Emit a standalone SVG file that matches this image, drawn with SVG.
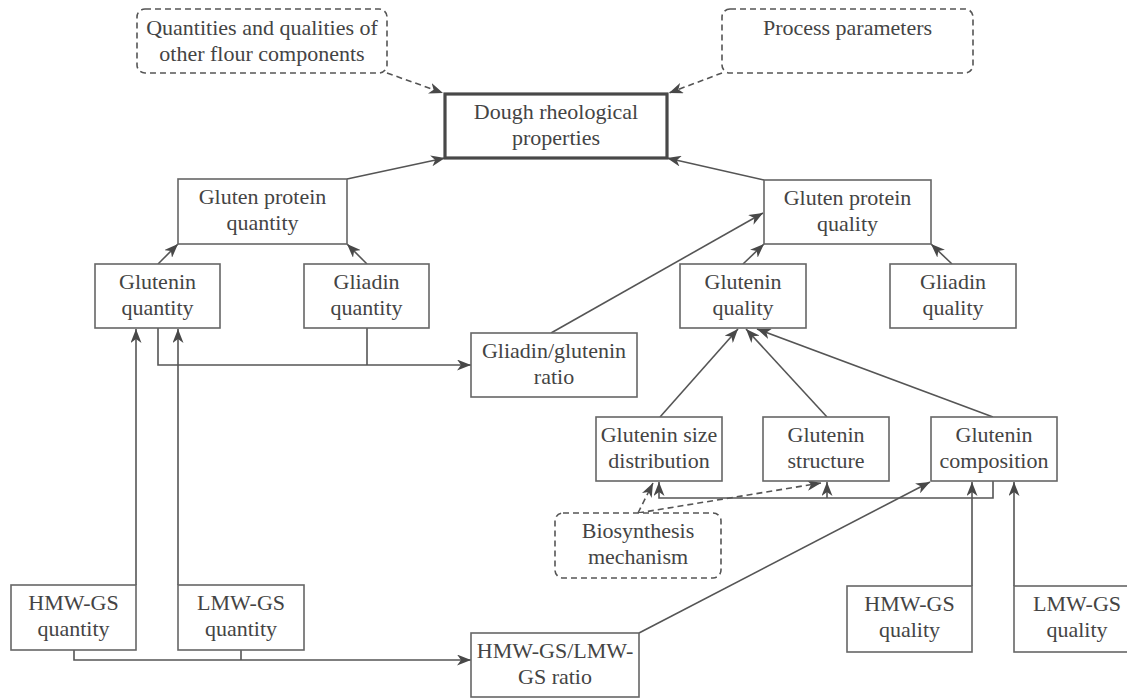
<svg xmlns="http://www.w3.org/2000/svg" width="1127" height="699" viewBox="0 0 1127 699" font-family="'Liberation Serif', 'DejaVu Serif', serif">
<defs>
<style>
.box{fill:#fff;stroke:#666;stroke-width:1.6}
.dbox{fill:#fff;stroke:#555;stroke-width:1.6;stroke-dasharray:6 4}
.main{fill:#fff;stroke:#484848;stroke-width:3.2}
text{font-family:'Liberation Serif', 'DejaVu Serif', serif;font-size:22px;fill:#444;text-anchor:middle}
.ln{fill:none;stroke:#555;stroke-width:1.6}
.dl{fill:none;stroke:#555;stroke-width:1.6;stroke-dasharray:6 4}
.arr{marker-end:url(#ah)}
</style>
<marker id="ah" viewBox="0 0 14 11" refX="14" refY="5.5" markerWidth="14" markerHeight="11" orient="auto" markerUnits="userSpaceOnUse">
<path d="M0,0 L14,5.5 L0,11 L4,5.5 Z" fill="#484848"/>
</marker>
</defs>
<rect width="1127" height="699" fill="#fff"/>

<g id="connectors">
<path class="dl arr" d="M387,73 L443,93"/>
<path class="dl arr" d="M722,73 L669,93"/>
<path class="ln arr" d="M347,179 L445,158"/>
<path class="ln arr" d="M764,180 L667,158"/>
<path class="ln arr" d="M158,264 L178,244"/>
<path class="ln arr" d="M367,264 L347,244"/>
<path class="ln arr" d="M743,264 L764,244"/>
<path class="ln arr" d="M952,264 L931,244"/>
<path class="ln arr" d="M551,333 L763,213"/>
<path class="ln arr" d="M158,328 V365 H471"/>
<path class="ln" d="M367,328 V365"/>
<path class="ln arr" d="M136,585 V329"/>
<path class="ln arr" d="M178,585 V329"/>
<path class="ln arr" d="M74,650 V660 H471"/>
<path class="ln" d="M241,650 V660"/>
<path class="ln arr" d="M660,417 L738,329"/>
<path class="ln arr" d="M827,417 L746,329"/>
<path class="ln arr" d="M993,417 L757,329"/>
<path class="ln arr" d="M993,481 V498 H659 V482"/>
<path class="ln arr" d="M827,498 V482"/>
<path class="dl arr" d="M638,513 L653,483"/>
<path class="dl arr" d="M638,513 L821,483"/>
<path class="ln arr" d="M639,633 L930,482"/>
<path class="ln arr" d="M972,586 V482"/>
<path class="ln arr" d="M1014,586 V482"/>
</g>

<g id="n-other"><rect class="dbox" x="137" y="9" width="250" height="64" rx="8"/><text x="262" y="35">Quantities and qualities of</text><text x="262" y="61">other flour components</text></g>
<g id="n-process"><rect class="dbox" x="722" y="9" width="251" height="64" rx="8"/><text x="847.5" y="35">Process parameters</text></g>
<g id="n-dough"><rect class="main" x="445" y="94" width="222" height="64"/><text x="556" y="119">Dough rheological</text><text x="556" y="145">properties</text></g>
<g id="n-gpquantity"><rect class="box" x="178" y="179" width="169" height="65"/><text x="262.5" y="204">Gluten protein</text><text x="262.5" y="230">quantity</text></g>
<g id="n-gpquality"><rect class="box" x="764" y="180" width="167" height="64"/><text x="847.5" y="205">Gluten protein</text><text x="847.5" y="231">quality</text></g>
<g id="n-gluteninquantity"><rect class="box" x="95" y="264" width="125" height="64"/><text x="157.5" y="289">Glutenin</text><text x="157.5" y="315">quantity</text></g>
<g id="n-gliadinquantity"><rect class="box" x="304" y="264" width="125" height="64"/><text x="366.5" y="289">Gliadin</text><text x="366.5" y="315">quantity</text></g>
<g id="n-gluteninquality"><rect class="box" x="680" y="264" width="126" height="64"/><text x="743" y="289">Glutenin</text><text x="743" y="315">quality</text></g>
<g id="n-gliadinquality"><rect class="box" x="890" y="264" width="126" height="64"/><text x="953" y="289">Gliadin</text><text x="953" y="315">quality</text></g>
<g id="n-ratio"><rect class="box" x="471" y="333" width="166" height="64"/><text x="554" y="358">Gliadin/glutenin</text><text x="554" y="384">ratio</text></g>
<g id="n-sizedist"><rect class="box" x="596" y="417" width="126" height="64"/><text x="659" y="442">Glutenin size</text><text x="659" y="468">distribution</text></g>
<g id="n-structure"><rect class="box" x="763" y="417" width="126" height="64"/><text x="826" y="442">Glutenin</text><text x="826" y="468">structure</text></g>
<g id="n-composition"><rect class="box" x="931" y="417" width="126" height="64"/><text x="994" y="442">Glutenin</text><text x="994" y="468">composition</text></g>
<g id="n-biosynthesis"><rect class="dbox" x="555" y="513" width="166" height="65" rx="8"/><text x="638" y="538">Biosynthesis</text><text x="638" y="564">mechanism</text></g>
<g id="n-hmwquantity"><rect class="box" x="11" y="585" width="125" height="65"/><text x="73.5" y="610">HMW-GS</text><text x="73.5" y="636">quantity</text></g>
<g id="n-lmwquantity"><rect class="box" x="178" y="585" width="126" height="65"/><text x="241" y="610">LMW-GS</text><text x="241" y="636">quantity</text></g>
<g id="n-hmwlmwratio"><rect class="box" x="471" y="633" width="168" height="64"/><text x="555" y="658">HMW-GS/LMW-</text><text x="555" y="684">GS ratio</text></g>
<g id="n-hmwquality"><rect class="box" x="847" y="586" width="125" height="66"/><text x="909.5" y="611">HMW-GS</text><text x="909.5" y="637">quality</text></g>
<g id="n-lmwquality"><rect class="box" x="1014" y="586" width="126" height="66"/><text x="1077" y="611">LMW-GS</text><text x="1077" y="637">quality</text></g>
</svg>
